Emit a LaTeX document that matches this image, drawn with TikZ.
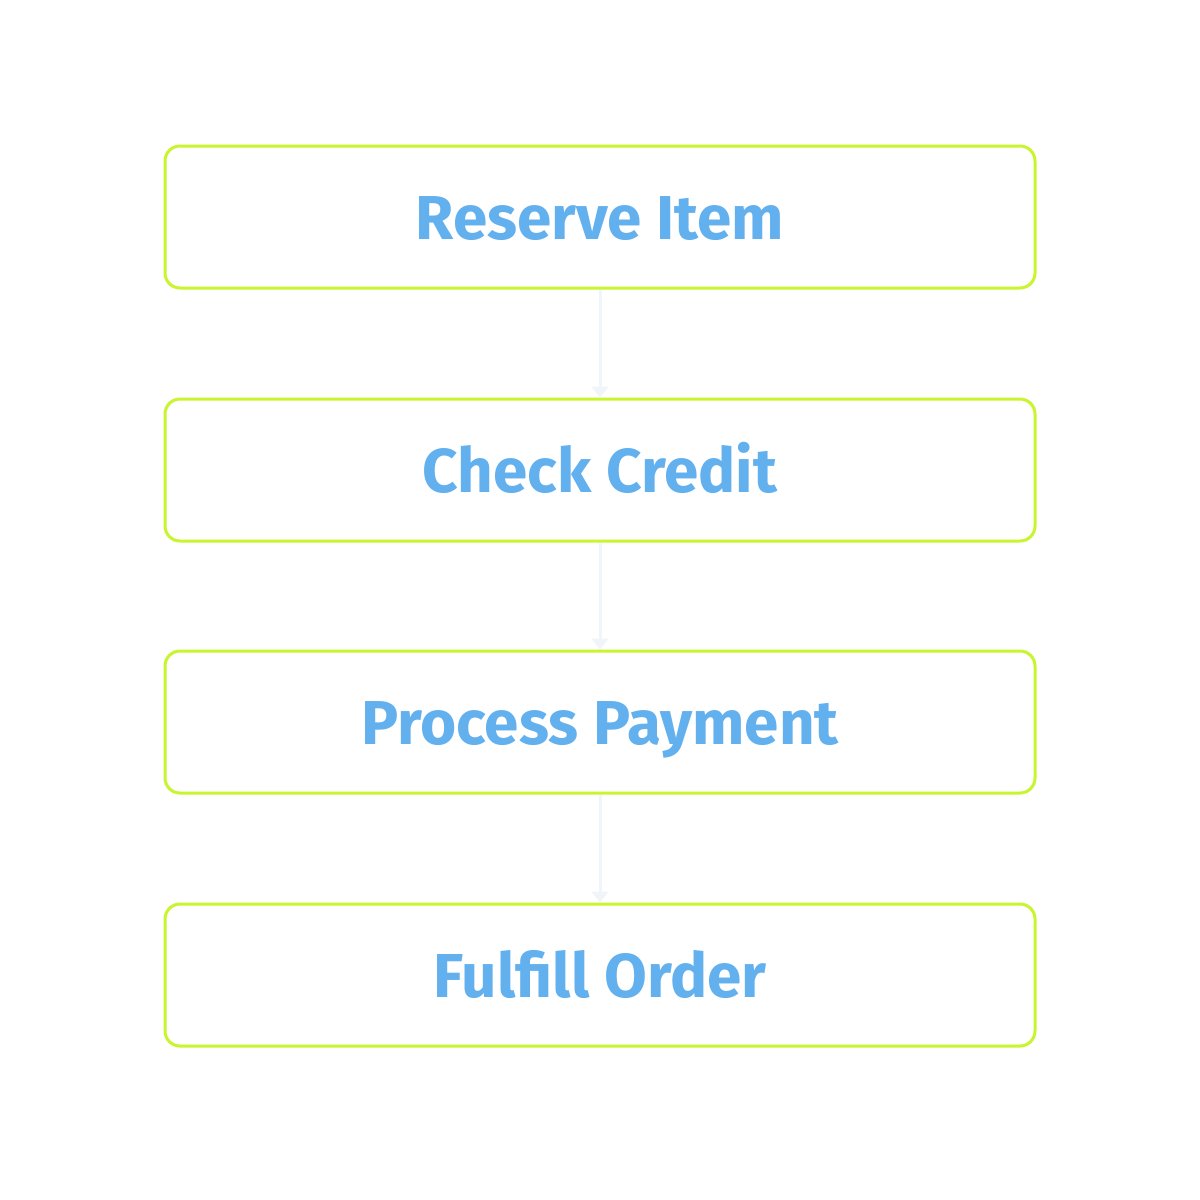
\documentclass[tikz,border=0pt]{standalone}
\usepackage{fontspec}
\setmainfont{Fira Sans}
\usetikzlibrary{arrows.meta}
\definecolor{boxline}{HTML}{C8F52E}
\definecolor{txt}{HTML}{63B0EE}
\definecolor{conn}{HTML}{F1F5F9}
\begin{document}
\begin{tikzpicture}[x=1pt,y=-1pt,
  stepbox/.style={draw=boxline, line width=3pt, rounded corners=15pt, fill=white,
    minimum width=870pt, minimum height=142pt, inner sep=0pt,
    text height=45pt, text depth=0pt,
    text=txt, font=\fontsize{62}{66}\selectfont\bfseries},
  flow/.style={draw=conn, line width=3pt, -{Triangle[width=17pt,length=11pt]}}]
\useasboundingbox[fill=white] (0,0) rectangle (1200,1200);
\node[stepbox] (b1) at (600,217) {Reserve Item};
\node[stepbox] (b2) at (600,470) {Check Credit};
\node[stepbox] (b3) at (600,722) {Process Payment};
\node[stepbox] (b4) at (600,975) {Fulfill Order};
\draw[flow] (b1.south) -- (b2.north);
\draw[flow] (b2.south) -- (b3.north);
\draw[flow] (b3.south) -- (b4.north);
\end{tikzpicture}
\end{document}
